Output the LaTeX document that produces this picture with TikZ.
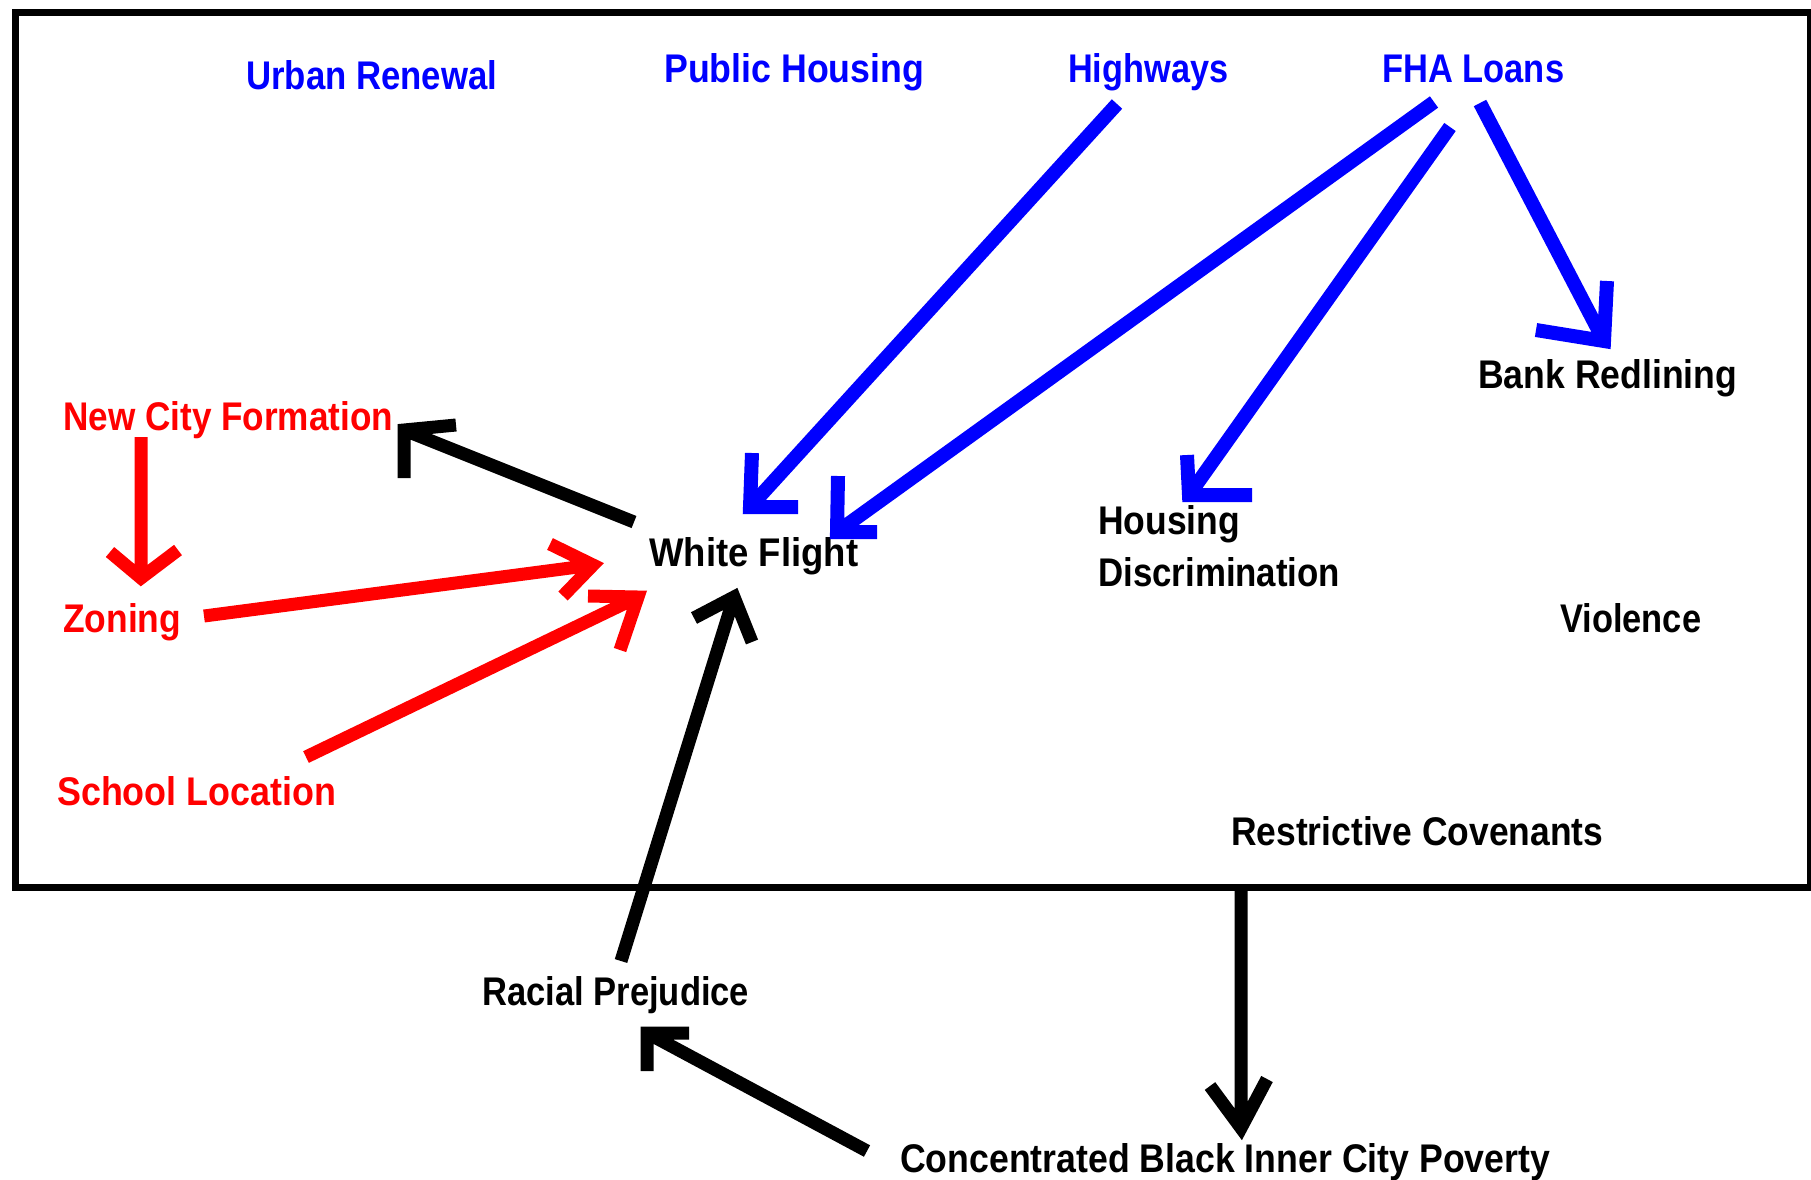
\documentclass[tikz,border=0pt]{standalone}
\usepackage{fontspec}
\setmainfont{Liberation Sans}
\definecolor{pblue}{RGB}{0,0,255}
\definecolor{pred}{RGB}{255,0,0}
\newcommand\fitto[2]{\resizebox{#1pt}{\height}{#2}}
\begin{document}
\begin{tikzpicture}[x=1pt,y=-1pt,
  lbl/.style={anchor=base west,inner sep=0pt,font=\fontsize{40}{40}\bfseries\selectfont},
  conn/.style={line width=13pt,line join=miter,line cap=butt},
  bluec/.style={conn,draw=pblue,line width=14pt},
  redc/.style={conn,draw=pred},
  blackc/.style={conn,draw=black}]
\useasboundingbox[fill=white] (0,0) rectangle (1811,1179);
% frame
\node[draw,line width=7pt,inner sep=0pt,minimum width=1795pt,minimum height=875pt,anchor=north west] (frame) at (11.5,8.5) {};
% labels
\node[lbl,text=pblue] (ur) at (246,89) {\fitto{251}{Urban Renewal}};
\node[lbl,text=pblue] (ph) at (664,82) {\fitto{260}{Public Housing}};
\node[lbl,text=pblue] (hw) at (1068,82) {\fitto{160}{Highways}};
\node[lbl,text=pblue] (fha) at (1382,82) {\fitto{182}{FHA Loans}};
\node[lbl,text=pred] (ncf) at (63,430) {\fitto{330}{New City Formation}};
\node[lbl] (wf) at (649,566) {\fitto{209}{White Flight}};
\node[lbl] (hd) at (1098,534) {\vtop{\baselineskip=52pt\hbox{\fitto{142}{Housing}}\hbox{\fitto{242}{Discrimination}}}};
\node[lbl] (br) at (1478,388) {\fitto{259}{Bank Redlining}};
\node[lbl,text=pred] (zon) at (63,632) {\fitto{118}{Zoning}};
\node[lbl] (vio) at (1560,632) {\fitto{141}{Violence}};
\node[lbl,text=pred] (sch) at (57,805) {\fitto{279}{School Location}};
\node[lbl] (rc) at (1231,845) {\fitto{372}{Restrictive Covenants}};
\node[lbl] (rp) at (482,1005) {\fitto{267}{Racial Prejudice}};
\node[lbl] (cbp) at (900,1172) {\fitto{650}{Concentrated Black Inner City Poverty}};
% connector end points and hand-drawn arrowheads
\coordinate (hw-out) at (1117,104);
\coordinate (wf-h1) at (750,507);
\coordinate (wf-h1a) at (752,453);
\coordinate (wf-h1b) at (798,507);
\coordinate (fha-out1) at (1434,102);
\coordinate (wf-h2) at (837,532);
\coordinate (wf-h2a) at (838,476);
\coordinate (wf-h2b) at (877,532);
\coordinate (fha-out2) at (1450,127);
\coordinate (hd-h) at (1189,495);
\coordinate (hd-ha) at (1187,455);
\coordinate (hd-hb) at (1252,495);
\coordinate (fha-out3) at (1480,103);
\coordinate (br-h) at (1604,341);
\coordinate (br-ha) at (1607,281);
\coordinate (br-hb) at (1536,330);
\coordinate (wf-out) at (634,522);
\coordinate (ncf-h) at (404,430);
\coordinate (ncf-ha) at (456,425);
\coordinate (ncf-hb) at (404,478);
\coordinate (ncf-out) at (141,437);
\coordinate (zon-h) at (141,578);
\coordinate (zon-ha) at (110,552);
\coordinate (zon-hb) at (178,550);
\coordinate (zon-out) at (204,616);
\coordinate (wf-h3) at (593,565);
\coordinate (wf-h3a) at (550,544);
\coordinate (wf-h3b) at (563,596);
\coordinate (sch-out) at (306,757);
\coordinate (wf-h4) at (638,597);
\coordinate (wf-h4a) at (588,596);
\coordinate (wf-h4b) at (620,650);
\coordinate (rp-out) at (621,961);
\coordinate (wf-h5) at (734,597);
\coordinate (wf-h5a) at (694,618);
\coordinate (wf-h5b) at (752,642);
\coordinate (cbp-out) at (867,1151);
\coordinate (rp-h) at (647,1033);
\coordinate (rp-ha) at (689,1033);
\coordinate (rp-hb) at (647,1071);
\coordinate (frame-out) at (1241,885);
\coordinate (cbp-h) at (1241,1128);
\coordinate (cbp-ha) at (1210,1086);
\coordinate (cbp-hb) at (1267,1079);
% connectors
\draw[bluec] (hw-out) -- (wf-h1) (wf-h1a) -- (wf-h1) -- (wf-h1b);
\draw[bluec] (fha-out1) -- (wf-h2) (wf-h2a) -- (wf-h2) -- (wf-h2b);
\draw[bluec] (fha-out2) -- (hd-h) (hd-ha) -- (hd-h) -- (hd-hb);
\draw[bluec] (fha-out3) -- (br-h) (br-ha) -- (br-h) -- (br-hb);
\draw[blackc] (wf-out) -- (ncf-h) (ncf-ha) -- (ncf-h) -- (ncf-hb);
\draw[redc] (ncf-out) -- (zon-h) (zon-ha) -- (zon-h) -- (zon-hb);
\draw[redc] (zon-out) -- (wf-h3) (wf-h3a) -- (wf-h3) -- (wf-h3b);
\draw[redc] (sch-out) -- (wf-h4) (wf-h4a) -- (wf-h4) -- (wf-h4b);
\draw[blackc] (rp-out) -- (wf-h5) (wf-h5a) -- (wf-h5) -- (wf-h5b);
\draw[blackc] (cbp-out) -- (rp-h) (rp-ha) -- (rp-h) -- (rp-hb);
\draw[blackc] (frame-out) -- (cbp-h) (cbp-ha) -- (cbp-h) -- (cbp-hb);
\end{tikzpicture}
\end{document}
